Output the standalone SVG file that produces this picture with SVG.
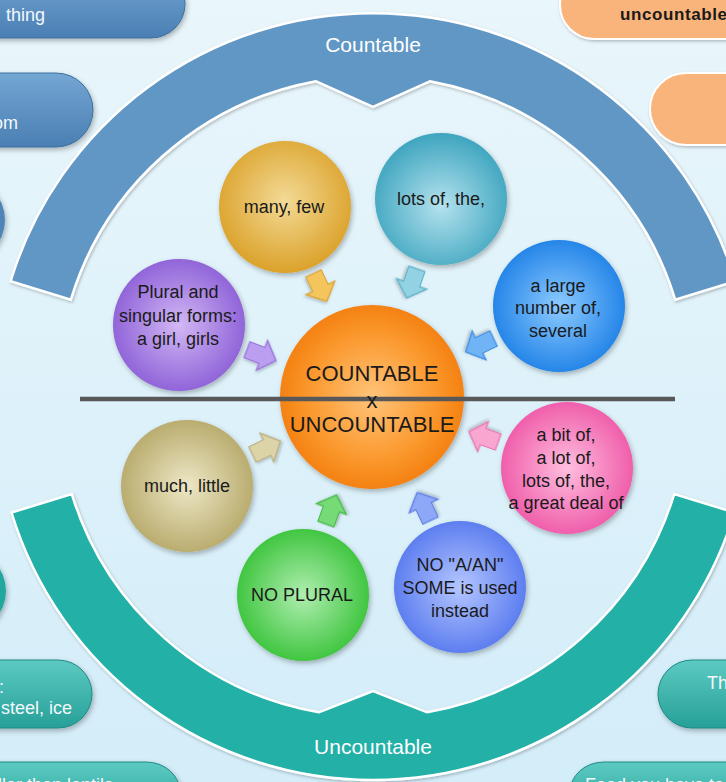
<svg xmlns="http://www.w3.org/2000/svg" width="726" height="782" viewBox="0 0 726 782">
<defs>
<linearGradient id="bg" x1="0" y1="0" x2="0" y2="1"><stop offset="0" stop-color="#e9f6fb"/><stop offset="1" stop-color="#d3edf9"/></linearGradient>
<linearGradient id="gBluePill" x1="0" y1="0" x2="0" y2="1"><stop offset="0" stop-color="#74a6d3"/><stop offset="1" stop-color="#4a7fb3"/></linearGradient>
<linearGradient id="gTealPill" x1="0" y1="0" x2="0" y2="1"><stop offset="0" stop-color="#5ccac2"/><stop offset="1" stop-color="#26a098"/></linearGradient>
<radialGradient id="gOrange" cx="0.5" cy="0.5" r="0.55"><stop offset="0" stop-color="#ffc47a"/><stop offset="0.6" stop-color="#fb9a30"/><stop offset="1" stop-color="#f27a08"/></radialGradient>
<radialGradient id="gGold" cx="0.5" cy="0.45" r="0.55"><stop offset="0" stop-color="#f3da96"/><stop offset="1" stop-color="#dba22a"/></radialGradient>
<radialGradient id="gCyan" cx="0.5" cy="0.55" r="0.55"><stop offset="0" stop-color="#b4e2ee"/><stop offset="1" stop-color="#3ea5bf"/></radialGradient>
<radialGradient id="gBlue" cx="0.5" cy="0.5" r="0.55"><stop offset="0" stop-color="#8ccaff"/><stop offset="1" stop-color="#1b7fe6"/></radialGradient>
<radialGradient id="gPurple" cx="0.5" cy="0.5" r="0.55"><stop offset="0" stop-color="#d2b8f4"/><stop offset="1" stop-color="#8a5cd6"/></radialGradient>
<radialGradient id="gKhaki" cx="0.5" cy="0.5" r="0.55"><stop offset="0" stop-color="#ede7c6"/><stop offset="1" stop-color="#b5a767"/></radialGradient>
<radialGradient id="gPink" cx="0.5" cy="0.5" r="0.55"><stop offset="0" stop-color="#ffbfdf"/><stop offset="1" stop-color="#ee55a6"/></radialGradient>
<radialGradient id="gGreen" cx="0.5" cy="0.5" r="0.55"><stop offset="0" stop-color="#b0eeb0"/><stop offset="1" stop-color="#36c236"/></radialGradient>
<radialGradient id="gPeri" cx="0.5" cy="0.5" r="0.55"><stop offset="0" stop-color="#b4c6ff"/><stop offset="1" stop-color="#5577ee"/></radialGradient>
<filter id="sh" x="-20%" y="-20%" width="140%" height="140%"><feDropShadow dx="1.5" dy="2.5" stdDeviation="2.5" flood-color="#000" flood-opacity="0.28"/></filter>
<filter id="shs" x="-20%" y="-20%" width="140%" height="140%"><feDropShadow dx="1" dy="1.5" stdDeviation="1.5" flood-color="#000" flood-opacity="0.25"/></filter>
<path id="arw" d="M-15,-8.5 L1,-8.5 L1,-16 L16,0 L1,16 L1,8.5 L-15,8.5 Z"/>
</defs>
<style>
text{font-family:"Liberation Sans",Arial,sans-serif;}
.ct{font-size:18px;fill:#1a1a1a;text-anchor:middle;}
.big{font-size:22px;fill:#1a1a1a;text-anchor:middle;}
.band{font-size:21px;fill:#ffffff;text-anchor:middle;}
.pt{font-size:18px;fill:#f2f8fc;}
.bp{fill:url(#gBluePill);stroke:#3d6f9f;stroke-width:1;filter:url(#sh);}
.tp{fill:url(#gTealPill);stroke:#1f8a83;stroke-width:1;filter:url(#sh);}
.op{fill:#f9b47c;stroke:#ffffff;stroke-width:2;filter:url(#shs);}
.arc{stroke:#ffffff;stroke-width:2.5;filter:url(#shs);}
.c{filter:url(#sh);}
.a{stroke-width:1.2;filter:url(#shs);}
</style>
<rect x="0" y="0" width="726" height="782" fill="url(#bg)"/>

<g id="side-nodes">
<g id="pill-thing"><rect class="bp" x="-60" y="-30" width="245" height="68" rx="34"/><text class="pt" x="6" y="21">thing</text></g>
<g id="pill-om"><rect class="bp" x="-60" y="73" width="153" height="74" rx="37"/><text class="pt" x="-7" y="129">om</text></g>
<g id="circle-left-blue"><circle class="c" cx="-38" cy="220" r="43" fill="#4f84b6"/></g>
<g id="circle-left-teal"><circle class="c" cx="-36" cy="591" r="42" fill="#23a79e"/></g>
<g id="pill-steel"><rect class="tp" x="-60" y="660" width="152" height="68" rx="34"/><text class="pt" x="4" y="693" text-anchor="end">:</text><text class="pt" x="72" y="714" text-anchor="end">steel, ice</text></g>
<g id="pill-lentils"><rect class="tp" x="-60" y="762" width="240" height="60" rx="34"/><text class="pt" x="-2" y="791">ller than lentils</text></g>
<g id="pill-thi"><rect class="tp" x="658" y="660" width="120" height="68" rx="34"/><text class="pt" x="707" y="689">Thi</text></g>
<g id="pill-food"><rect class="tp" x="570" y="762" width="200" height="60" rx="34"/><text class="pt" x="585" y="791">Food you have to</text></g>
<g id="pill-uncountable"><rect class="op" x="560" y="-30" width="220" height="69" rx="34"/><text x="620" y="20" font-size="17" font-weight="bold" letter-spacing="0.6" fill="#1a1a1a">uncountable</text></g>
<g id="pill-orange2"><rect class="op" x="650" y="73" width="120" height="72" rx="36"/></g>
</g>

<g id="band-countable">
<path class="arc" fill="#6197c5" d="M10.6,281.2 A379,379 0 0 1 735.4,281.2 L675.2,299.6 A316,316 0 0 0 430,81.2 L373,107 L316,81.2 A316,316 0 0 0 70.8,299.6 Z"/>
<text class="band" x="373" y="52">Countable</text>
</g>
<g id="band-uncountable">
<path class="arc" fill="#21b0a7" d="M11.5,512.5 A378,378 0 0 0 734.5,512.5 L674.2,494.1 A315,315 0 0 1 427,712.3 L373,691 L319,712.3 A315,315 0 0 1 71.8,494.1 Z"/>
<text class="band" x="373" y="754">Uncountable</text>
</g>

<g id="n-many"><circle class="c" cx="285" cy="207" r="66" fill="url(#gGold)"/><text class="ct" x="284" y="213">many, few</text></g>
<g id="n-lots"><circle class="c" cx="441" cy="199" r="66" fill="url(#gCyan)"/><text class="ct" x="441" y="205">lots of, the,</text></g>
<g id="n-large"><circle class="c" cx="559" cy="306" r="66" fill="url(#gBlue)"/><text class="ct" x="558" y="292">a large</text><text class="ct" x="558" y="314">number of,</text><text class="ct" x="558" y="337">several</text></g>
<g id="n-plural"><circle class="c" cx="179" cy="325" r="66" fill="url(#gPurple)"/><text class="ct" x="178" y="298">Plural and</text><text class="ct" x="178" y="322">singular forms:</text><text class="ct" x="178" y="345">a girl, girls</text></g>
<g id="n-much"><circle class="c" cx="187" cy="486" r="66" fill="url(#gKhaki)"/><text class="ct" x="187" y="492">much, little</text></g>
<g id="n-bit"><circle class="c" cx="567" cy="468" r="66" fill="url(#gPink)"/><text class="ct" x="566" y="441">a bit of,</text><text class="ct" x="566" y="464">a lot of,</text><text class="ct" x="566" y="487">lots of, the,</text><text class="ct" x="566" y="509">a great deal of</text></g>
<g id="n-noplural"><circle class="c" cx="303" cy="595" r="66" fill="url(#gGreen)"/><text class="ct" x="302" y="601">NO PLURAL</text></g>
<g id="n-noaan"><circle class="c" cx="460" cy="587" r="66" fill="url(#gPeri)"/><text class="ct" x="460" y="571">NO "A/AN"</text><text class="ct" x="460" y="594">SOME is used</text><text class="ct" x="460" y="617">instead</text></g>

<g id="n-center"><circle class="c" cx="372" cy="397" r="92" fill="url(#gOrange)"/>
<line x1="80" y1="399" x2="675" y2="399" stroke="#585858" stroke-width="4.5"/>
<text class="big" x="372" y="381">COUNTABLE</text><text class="big" x="372" y="408" font-size="20">x</text><text class="big" x="372" y="432">UNCOUNTABLE</text></g>

<g id="connectors">
<use href="#arw" class="a" transform="translate(320,287) rotate(64.7)" fill="#f3c55c" stroke="#d8a234"/>
<use href="#arw" class="a" transform="translate(412,283) rotate(109.3)" fill="#92d2e2" stroke="#5aafc6"/>
<use href="#arw" class="a" transform="translate(480,345) rotate(154.3)" fill="#70b4f6" stroke="#3a8ae0"/>
<use href="#arw" class="a" transform="translate(261,355) rotate(20.7)" fill="#bc9ef0" stroke="#9470d8"/>
<use href="#arw" class="a" transform="translate(266,448) rotate(-25.7)" fill="#dcd4a8" stroke="#b8ac78"/>
<use href="#arw" class="a" transform="translate(484,437) rotate(-160.3)" fill="#f9a6d0" stroke="#e872b2"/>
<use href="#arw" class="a" transform="translate(331,510) rotate(-70)" fill="#76da76" stroke="#40b840"/>
<use href="#arw" class="a" transform="translate(424,507) rotate(-115.3)" fill="#8ea8f8" stroke="#5a7ce8"/>
</g>
</svg>
